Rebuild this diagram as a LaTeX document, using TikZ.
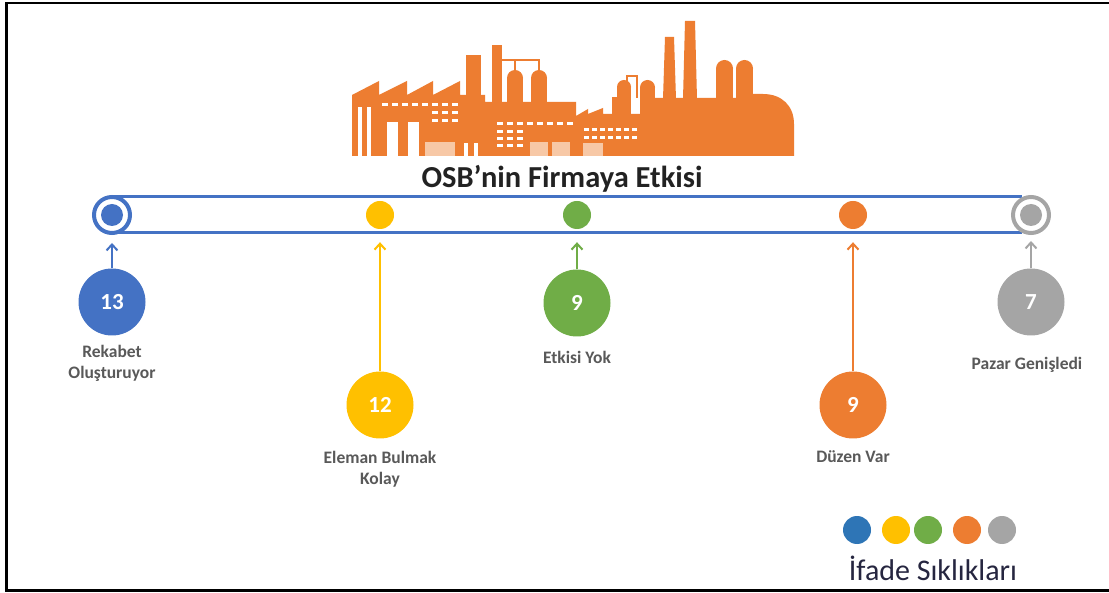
\documentclass[tikz,border=0pt]{standalone}
\usepackage{fontspec}
\setmainfont{Carlito}
\usetikzlibrary{arrows.meta}
\definecolor{cblue}{HTML}{4472C4}
\definecolor{lblue}{HTML}{2E75B6}
\definecolor{cyel}{HTML}{FFC000}
\definecolor{cgreen}{HTML}{70AD47}
\definecolor{corange}{HTML}{ED7D31}
\definecolor{cgray}{HTML}{A5A5A5}
\definecolor{peach}{HTML}{F7C8A6}
\definecolor{lblgray}{HTML}{595959}
\definecolor{titlec}{HTML}{222222}
\definecolor{legc}{HTML}{262640}
\tikzset{
  pipe/.style={cblue, line width=3pt},
  bigc/.style={circle, minimum size=67pt, inner sep=0pt, text=white, font=\bfseries\fontsize{23}{26}\selectfont},
  dotc/.style={circle, minimum size=28pt, inner sep=0pt},
  ringc/.style={circle, minimum size=36pt, inner sep=0pt, line width=4pt, fill=white},
  lbl/.style={align=center, text=lblgray, font=\bfseries\fontsize{17.5}{21}\selectfont},
  conn/.style={line width=2pt, -{Straight Barb[length=6pt,width=11pt,line width=2pt]}},
}
\begin{document}
\begin{tikzpicture}[x=1pt,y=-1pt]
\useasboundingbox (0,0) rectangle (1109,593);
\fill[white] (0,0) rectangle (1109,593);
% frame
\draw[black, line width=2.5pt] (1109,3) -- (6.5,3) -- (6.5,590.5) -- (1109,590.5);

% ---------- factory silhouette ----------
\begin{scope}
\fill[corange] (352,156) -- (352,95) -- (379,81) -- (379,95) -- (407,81) -- (407,95) -- (433,81) -- (433,95) -- (460,81) -- (460,95) -- (485,95) -- (485,102) -- (576,102) -- (576,116) -- (588,109) -- (588,114) -- (603,108) -- (603,114) -- (640,114) -- (640,98) -- (753,98) -- (753,94) -- (763,94) .. controls (782,94) and (794,106) .. (794,124) -- (794,156) -- cycle;
\fill[corange] (466,55) rectangle (481,100);
\fill[corange] (492,45) rectangle (502,105);
\fill[corange] (515,78) circle (8);
\fill[corange] (507,78) rectangle (523,105);
\fill[corange] (539,78) circle (8);
\fill[corange] (531,78) rectangle (547,105);
\draw[corange, line width=2pt] (502,60) -- (540,60);
\draw[corange, line width=2pt] (515,60) -- (515,72);
\draw[corange, line width=2pt] (539,60) -- (539,72);
% right structures
\fill[corange] (612,97) rectangle (617,116);
\fill[corange] (624,87) circle (7);
\fill[corange] (617,87) rectangle (631,116);
\draw[corange, line width=2pt] (627,82) -- (627,76) -- (637,76) -- (637,98);
\fill[corange] (647.5,87.5) circle (7.5);
\fill[corange] (640,87.5) rectangle (655,100);
\fill[corange] (663,99) -- (665,37) -- (674,37) -- (676,99) -- cycle;
\fill[corange] (683,99) -- (685,21) -- (695,21) -- (697,99) -- cycle;
\fill[corange] (724.5,68.5) circle (8.5);
\fill[corange] (716,68.5) rectangle (733,100);
\fill[corange] (744.5,68.5) circle (8.5);
\fill[corange] (736,68.5) rectangle (753,100);
% windows and doors
\foreach \x in {382,392,...,452} \fill[white] (\x,103) rectangle ++(6,3);
\foreach \x in {432,442,452} \foreach \y in {111,119} \fill[white] (\x,\y) rectangle ++(6,3);
\fill[white] (358,107) rectangle (362,156);
\fill[white] (367,107) rectangle (371,156);
\fill[white] (387,122) rectangle (398,156);
\fill[white] (408,122) rectangle (419,156);
\fill[peach] (425,142) rectangle (455,156);
\fill[white] (464,143) rectangle (468,156);
\fill[white] (474,143) rectangle (478,156);
\foreach \x in {497,507,...,567} \fill[white] (\x,122) rectangle ++(6,3);
\foreach \x in {497,507,517} \foreach \y in {130,137,144} \fill[white] (\x,\y) rectangle ++(6,3);
\fill[peach] (530,142) rectangle (548,156);
\fill[peach] (552,142) rectangle (570,156);
\foreach \x in {584,592,...,632} \foreach \y in {128,136} \fill[white] (\x,\y) rectangle ++(5,3);
\fill[peach] (583,143) rectangle (603,156);
\end{scope}

% ---------- title ----------
\node[anchor=base, text=titlec, font=\bfseries\fontsize{30.5}{34}\selectfont] (title) at (562,188) {OSB’nin Firmaya Etkisi};

% ---------- timeline ----------
\draw[pipe] (112,197) -- (1022,197);
\draw[pipe] (112,233) -- (1022,233);
\node[ringc, draw=cblue] (r1) at (112,215) {};
\fill[cblue] (r1.center) circle (11);
\node[ringc, draw=cgray] (r5) at (1031,215) {};
\fill[cgray] (r5.center) circle (11);
\node[dotc, fill=cyel] (d2) at (380,215) {};
\node[dotc, fill=cgreen] (d3) at (577,215) {};
\node[dotc, fill=corange] (d4) at (853,215) {};

% ---------- value circles ----------
\node[bigc, fill=cblue] (c1) at (112,302) {13};
\node[bigc, fill=cyel] (c2) at (380,405) {12};
\node[bigc, fill=cgreen] (c3) at (577,303) {9};
\node[bigc, fill=corange] (c4) at (853,405) {9};
\node[bigc, fill=cgray] (c5) at (1031,302) {7};

\draw[conn, cblue, shorten >=8pt] (c1) -- (r1);
\draw[conn, cyel, shorten >=13pt] (c2) -- (d2);
\draw[conn, cgreen, shorten >=13pt] (c3) -- (d3);
\draw[conn, corange, shorten >=13pt] (c4) -- (d4);
\draw[conn, cgray, shorten >=6pt] (c5) -- (r5);

% ---------- labels ----------
\node[lbl] (t1) at (112,363) {Rekabet\\Oluşturuyor};
\node[lbl] (t2) at (380,469) {Eleman Bulmak\\Kolay};
\node[lbl, anchor=base] (t3) at (577,364) {Etkisi Yok};
\node[lbl, anchor=base] (t4) at (853,463) {Düzen Var};
\node[lbl, anchor=base] (t5) at (1027,370) {Pazar Genişledi};

% ---------- legend ----------
\node[dotc, fill=lblue] (l1) at (857,530) {};
\node[dotc, fill=cyel] (l2) at (896,530) {};
\node[dotc, fill=cgreen] (l3) at (928,530) {};
\node[dotc, fill=corange] (l4) at (967,530) {};
\node[dotc, fill=cgray] (l5) at (1002,530) {};
\node[anchor=base, text=legc, font=\fontsize{30}{34}\selectfont] (leg) at (933,580) {İfade Sıklıkları};
\end{tikzpicture}
\end{document}
